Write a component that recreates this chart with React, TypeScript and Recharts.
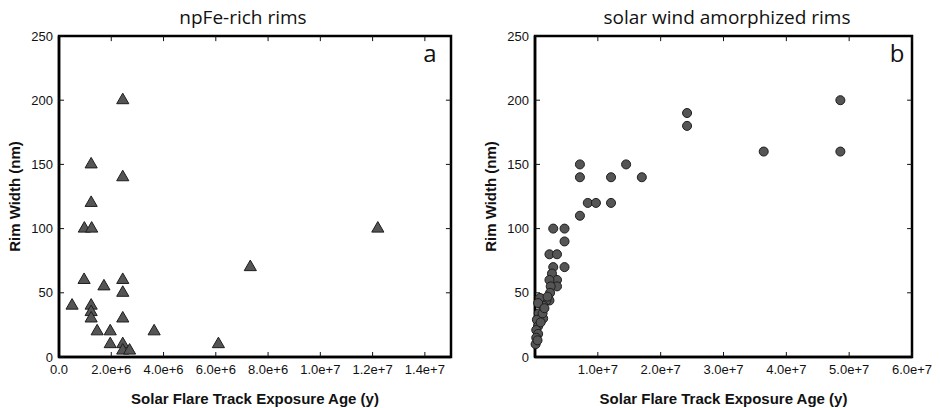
import {
  ScatterChart,
  Scatter,
  XAxis,
  YAxis,
  ZAxis,
  ReferenceArea,
  ReferenceLine,
} from "recharts";

// panel a: npFe-rich rims
const flareAgeA = [
  2.44e6, 1.23e6, 2.44e6, 1.23e6, 0.97e6, 1.25e6, 12.2e6, 7.32e6, 0.96e6,
  2.44e6, 1.72e6, 2.44e6, 0.5e6, 1.23e6, 1.23e6, 1.23e6, 2.44e6, 1.46e6,
  1.96e6, 3.64e6, 1.96e6, 2.44e6, 6.1e6, 2.44e6, 2.7e6,
];
const rimWidthA = [
  200, 150, 140, 120, 100, 100, 100, 70, 60, 60, 55, 50, 40, 40, 35, 30, 30,
  20, 20, 20, 10, 10, 10, 5, 5,
];

// panel b: solar wind amorphized rims
const flareAgeB = [
  4.86e7, 4.86e7, 3.64e7, 2.42e7, 2.42e7, 7.15e6, 7.15e6, 7.15e6, 1.45e7,
  1.21e7, 1.21e7, 1.7e7, 8.4e6, 9.7e6, 2.9e6, 4.7e6, 4.7e6, 4.7e6, 2.3e6,
  3.5e6, 2.9e6, 2.7e6, 3.5e6, 3.5e6, 2.3e6, 2.5e6, 2.4e6, 2.3e6, 1.0e6,
  1.8e6, 1.3e6, 8e5, 5e5, 1.3e6, 6e5, 3e5, 5e5, 2e5, 5e5, 2e5, 1e5, 4e5,
  9e5, 1.2e6, 1.5e6, 2.0e6,
];
const rimWidthB = [
  200, 160, 160, 190, 180, 150, 140, 110, 150, 140, 120, 140, 120, 120, 100,
  100, 90, 70, 80, 80, 70, 65, 60, 55, 60, 55, 50, 44, 45, 44, 40, 46, 42, 30,
  34, 29, 24, 21, 18, 15, 10, 13, 27, 34, 38, 47,
];

const xTicksA = [0, 2e6, 4e6, 6e6, 8e6, 1e7, 1.2e7, 1.4e7];
const xTicksB = [0, 1e7, 2e7, 3e7, 4e7, 5e7, 6e7];
const yTicks = [0, 50, 100, 150, 200, 250];
const Y_MAX = 250;

const sans = "Liberation Sans, Arial, sans-serif";
const titleFont = '"Open Sans", "Noto Sans", sans-serif';

const fmtA = (v: number) => (v === 0 ? "0.0" : v.toExponential(1));
const fmtB = (v: number) => (v === 0 ? "" : v.toExponential(1));

const BottomTick = (fmt: (v: number) => string) => (props: any) => (
  <text
    x={props.x}
    y={props.y}
    dy="0.71em"
    textAnchor="middle"
    fontSize={13}
    fontFamily={sans}
    fill="#111"
  >
    {fmt(props.payload.value)}
  </text>
);

const LeftTick = (props: any) => (
  <text
    x={props.x}
    y={props.y}
    dy="0.36em"
    textAnchor="end"
    fontSize={13}
    fontFamily={sans}
    fill="#111"
  >
    {props.payload.value}
  </text>
);

interface PanelProps {
  ages: number[];
  widths: number[];
  xTicks: number[];
  xMax: number;
  fmt: (v: number) => string;
  shape: "triangle" | "circle";
  size: number;
  left: number;
  yAxisWidth: number;
  rightMargin: number;
  title: string;
  titleX: number;
  letter: string;
  letterX: number;
}

function Panel(p: PanelProps) {
  const data = p.ages.map((a, i) => ({ age: a, width: p.widths[i] }));
  const tickLine = { stroke: "#111", strokeWidth: 1 };
  const axisLine = { stroke: "#000", strokeWidth: 2.5 };
  // mirrored ticks on the top and right edges, ~5px long
  const yTickLen = 4;
  const xTickLen = p.xMax * 0.013;
  return (
    <div style={{ position: "absolute", left: p.left, top: 0, width: 470, height: 408 }}>
      <div
        style={{
          position: "absolute",
          left: p.titleX - 150,
          width: 300,
          top: 4,
          textAlign: "center",
          fontFamily: titleFont,
          fontSize: 19,
          color: "#111",
        }}
      >
        {p.title}
      </div>
      <div
        style={{
          position: "absolute",
          left: p.letterX - 10,
          width: 20,
          top: 36,
          textAlign: "center",
          fontFamily: titleFont,
          fontSize: 24,
          color: "#111",
        }}
      >
        {p.letter}
      </div>
      <ScatterChart
        width={470}
        height={408}
        margin={{ top: 36, right: p.rightMargin, bottom: 0, left: 0 }}
      >
        <XAxis
          type="number"
          dataKey="age"
          domain={[0, p.xMax]}
          ticks={p.xTicks}
          interval={0}
          height={51}
          tickSize={-5}
          tickMargin={13}
          axisLine={axisLine}
          tickLine={tickLine}
          tick={BottomTick(p.fmt)}
          label={{
            value: "Solar Flare Track Exposure Age (y)",
            position: "insideBottom",
            offset: 4,
            fontSize: 15,
            fontWeight: "bold",
            fill: "#111",
            fontFamily: sans,
          }}
        />
        <YAxis
          type="number"
          dataKey="width"
          domain={[0, Y_MAX]}
          ticks={yTicks}
          interval={0}
          width={p.yAxisWidth}
          tickSize={-5}
          tickMargin={11}
          axisLine={axisLine}
          tickLine={tickLine}
          tick={LeftTick}
          label={{
            value: "Rim Width (nm)",
            angle: -90,
            position: "insideLeft",
            offset: p.yAxisWidth - 44,
            fontSize: 15,
            fontWeight: "bold",
            fill: "#111",
            fontFamily: sans,
            textAnchor: "middle",
          }}
        />
        <ZAxis range={[p.size, p.size]} />
        <ReferenceArea
          x1={0}
          x2={p.xMax}
          y1={0}
          y2={Y_MAX}
          fill="none"
          stroke="#000"
          strokeWidth={2.5}
          ifOverflow="visible"
        />
        {p.xTicks.slice(1).map((t) => (
          <ReferenceLine
            key={`tx-${t}`}
            segment={[
              { x: t, y: Y_MAX },
              { x: t, y: Y_MAX - yTickLen },
            ]}
            stroke="#111"
            strokeWidth={1}
          />
        ))}
        {yTicks.slice(1, -1).map((t) => (
          <ReferenceLine
            key={`ty-${t}`}
            segment={[
              { x: p.xMax, y: t },
              { x: p.xMax - xTickLen, y: t },
            ]}
            stroke="#111"
            strokeWidth={1}
          />
        ))}
        <Scatter
          data={data}
          shape={p.shape}
          fill="#555555"
          stroke="#1e1e1e"
          strokeWidth={1}
          isAnimationActive={false}
        />
      </ScatterChart>
    </div>
  );
}

export default function App() {
  return (
    <div style={{ position: "fixed", left: 0, top: 0, width: 940, height: 408, background: "#fff" }}>
      <Panel
        ages={flareAgeA}
        widths={rimWidthA}
        xTicks={xTicksA}
        xMax={1.5e7}
        fmt={fmtA}
        shape="triangle"
        size={95}
        left={0}
        yAxisWidth={59}
        rightMargin={19}
        title="npFe-rich rims"
        titleX={243}
        letter="a"
        letterX={430}
      />
      <Panel
        ages={flareAgeB}
        widths={rimWidthB}
        xTicks={xTicksB}
        xMax={6e7}
        fmt={fmtB}
        shape="circle"
        size={120}
        left={470}
        yAxisWidth={65}
        rightMargin={28}
        title="solar wind amorphized rims"
        titleX={257}
        letter="b"
        letterX={427}
      />
    </div>
  );
}
